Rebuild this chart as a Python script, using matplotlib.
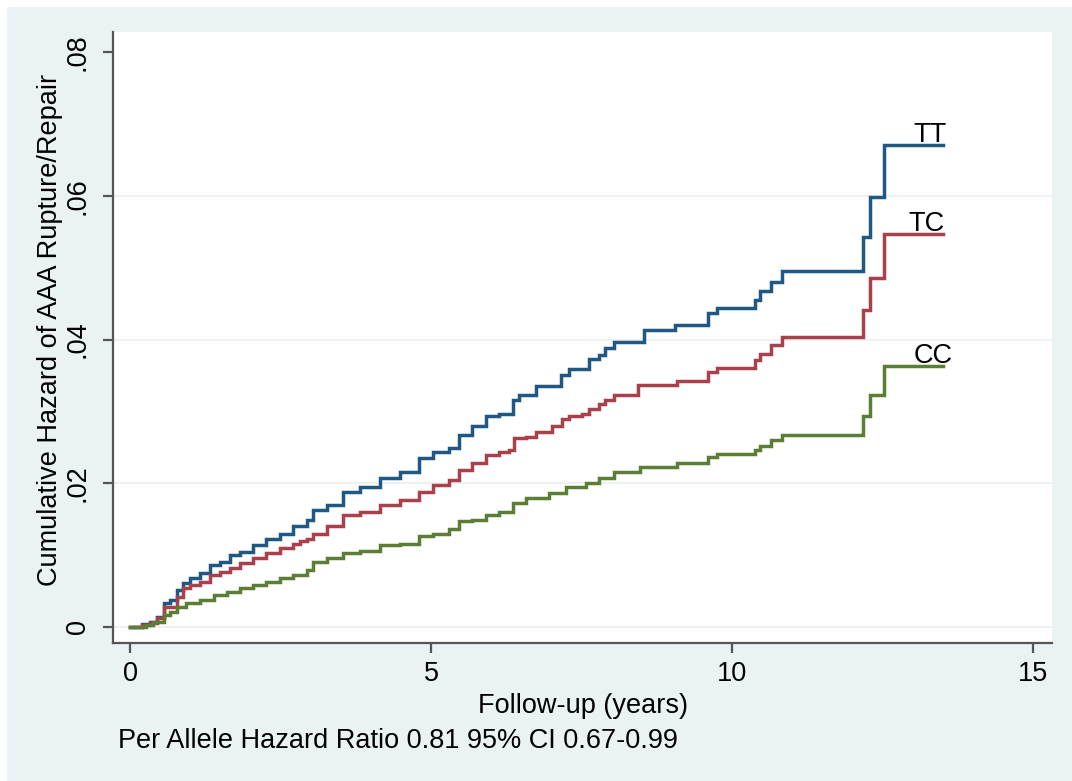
import matplotlib
matplotlib.use('Agg')
import matplotlib.pyplot as plt
from matplotlib.patches import Rectangle

plt.rcParams['font.family'] = ['Liberation Sans', 'DejaVu Sans']

# ---- data ----
tt_time = [0, 0.20, 0.33, 0.44, 0.55, 0.66, 0.77, 0.88, 0.99, 1.16, 1.32, 1.49, 1.66, 1.82,
           2.04, 2.26, 2.48, 2.70, 2.93, 3.04, 3.26, 3.53, 3.81, 4.14, 4.47, 4.80, 5.02, 5.30,
           5.46, 5.68, 5.90, 6.13, 6.35, 6.45, 6.73, 7.15, 7.28, 7.62, 7.78, 7.89, 8.03, 8.53,
           9.05, 9.60, 9.74, 10.37, 10.46, 10.64, 10.83, 12.17, 12.28, 12.52, 13.50]
tt_haz = [0, 0.0004, 0.0007, 0.0014, 0.0033, 0.0038, 0.0051, 0.0061, 0.0068, 0.0075, 0.0086,
          0.0091, 0.0100, 0.0105, 0.0114, 0.0123, 0.0130, 0.0140, 0.0149, 0.0163, 0.0170,
          0.0188, 0.0195, 0.0207, 0.0216, 0.0235, 0.0244, 0.0249, 0.0267, 0.0279, 0.0293,
          0.0297, 0.0316, 0.0323, 0.0335, 0.0350, 0.0359, 0.0373, 0.0379, 0.0388, 0.0397,
          0.0413, 0.0420, 0.0437, 0.0444, 0.0455, 0.0468, 0.0480, 0.0495, 0.0543, 0.0598,
          0.0671, 0.0671]

tc_time = [0, 0.20, 0.33, 0.44, 0.55, 0.77, 0.88, 0.99, 1.16, 1.32, 1.49, 1.66, 1.82, 2.04,
           2.26, 2.48, 2.70, 2.81, 2.93, 3.04, 3.26, 3.53, 3.81, 4.14, 4.47, 4.80, 5.02, 5.30,
           5.46, 5.68, 5.90, 6.13, 6.29, 6.37, 6.57, 6.73, 7.00, 7.17, 7.28, 7.50, 7.62, 7.78,
           7.89, 8.03, 8.44, 9.08, 9.60, 9.74, 10.37, 10.46, 10.64, 10.83, 12.17, 12.28, 12.52,
           13.50]
tc_haz = [0, 0.0003, 0.0006, 0.0012, 0.0028, 0.0042, 0.0054, 0.0058, 0.0063, 0.0072, 0.0077,
          0.0082, 0.0089, 0.0096, 0.0103, 0.0110, 0.0116, 0.0119, 0.0123, 0.0130, 0.0140,
          0.0156, 0.0160, 0.0170, 0.0177, 0.0188, 0.0198, 0.0205, 0.0219, 0.0228, 0.0239,
          0.0244, 0.0246, 0.0263, 0.0265, 0.0272, 0.0279, 0.0289, 0.0293, 0.0297, 0.0304,
          0.0311, 0.0316, 0.0323, 0.0337, 0.0342, 0.0355, 0.0361, 0.0372, 0.0380, 0.0392,
          0.0403, 0.0441, 0.0485, 0.0547, 0.0547]

cc_time = [0, 0.25, 0.38, 0.55, 0.66, 0.77, 0.93, 1.16, 1.38, 1.60, 1.82, 2.04, 2.26, 2.48,
           2.70, 2.93, 3.04, 3.26, 3.53, 3.81, 4.14, 4.47, 4.80, 5.02, 5.30, 5.46, 5.68, 5.90,
           6.13, 6.35, 6.57, 6.95, 7.23, 7.56, 7.78, 8.03, 8.47, 9.08, 9.60, 9.74, 10.37, 10.46,
           10.64, 10.83, 12.17, 12.28, 12.52, 13.50]
cc_haz = [0, 0.0003, 0.0007, 0.0017, 0.0021, 0.0028, 0.0033, 0.0038, 0.0045, 0.0049, 0.0054,
          0.0058, 0.0063, 0.0068, 0.0072, 0.0079, 0.0091, 0.0096, 0.0103, 0.0106, 0.0114,
          0.0116, 0.0126, 0.0130, 0.0137, 0.0147, 0.0149, 0.0156, 0.0160, 0.0172, 0.0180,
          0.0186, 0.0195, 0.0200, 0.0207, 0.0215, 0.0223, 0.0228, 0.0236, 0.0241, 0.0246,
          0.0252, 0.0260, 0.0267, 0.0294, 0.0323, 0.0363, 0.0363]

series_names = ['TT', 'TC', 'CC']
x_ticks = [0, 5, 10, 15]
x_tick_labels = ['0', '5', '10', '15']
y_ticks = [0, 0.02, 0.04, 0.06, 0.08]
y_tick_labels = ['0', '.02', '.04', '.06', '.08']
grid_levels = [0, 0.02, 0.04, 0.06]

x_label = 'Follow-up (years)'
y_label = 'Cumulative Hazard of AAA Rupture/Repair'
note = 'Per Allele Hazard Ratio 0.81 95% CI 0.67-0.99'

FS = 19.5

# ---- figure ----
W, H = 1072, 781
fig = plt.figure(figsize=(W / 100, H / 100), dpi=100, facecolor='white')
fig.patches.append(Rectangle((7 / W, 0), 1 - 7 / W, 1 - 7 / H, transform=fig.transFigure,
                             facecolor='#eaf2f3', edgecolor='none', zorder=-10))

ax_l, ax_r, ax_t, ax_b = 113, 1052, 32, 643
ax = fig.add_axes([ax_l / W, (H - ax_b) / H, (ax_r - ax_l) / W, (ax_b - ax_t) / H])
ax.set_facecolor('white')

colors = ['#1f5883', '#a8414b', '#5c7d35']
for t, h, c in zip([tt_time, tc_time, cc_time], [tt_haz, tc_haz, cc_haz], colors):
    ax.plot(t, h, drawstyle='steps-post', color=c, lw=2.5, solid_joinstyle='miter', zorder=3)

for g in grid_levels:
    ax.axhline(g, color='#eef1f1', lw=1.5, zorder=1)

ax.set_xlim(-0.29, 15.31)
ax.set_ylim(-0.00223, 0.0828)

for s in ['top', 'right']:
    ax.spines[s].set_visible(False)
for s in ['left', 'bottom']:
    ax.spines[s].set_color('#555555')
    ax.spines[s].set_linewidth(1.6)

ax.set_xticks(x_ticks)
ax.set_xticklabels(x_tick_labels, fontsize=FS)
ax.set_yticks(y_ticks)
ax.set_yticklabels(y_tick_labels, fontsize=FS, rotation=90, va='center')
ax.tick_params(axis='both', colors='#555555', width=1.6, length=7, labelcolor='black')
ax.tick_params(axis='x', pad=6)
ax.tick_params(axis='y', pad=9)

# end labels
label_pos = [(13.28, tt_haz[-1]), (13.22, tc_haz[-1]), (13.33, cc_haz[-1])]
for name, (x, y) in zip(series_names, label_pos):
    ax.annotate(name, (x, y), xytext=(0, 2), textcoords='offset points',
                ha='center', va='baseline', fontsize=FS, color='black', zorder=4)

fig.text((ax_l + ax_r) / 2 / W, (H - 713) / H, x_label, ha='center', va='baseline', fontsize=FS)
fig.text(50 / W, (H - (ax_t + ax_b) / 2 + 8) / H, y_label, ha='center', va='center',
         rotation=90, fontsize=FS)
fig.text(118 / W, (H - 748) / H, note, ha='left', va='baseline', fontsize=FS)

fig.savefig('out.png', dpi=100, facecolor=fig.get_facecolor())
